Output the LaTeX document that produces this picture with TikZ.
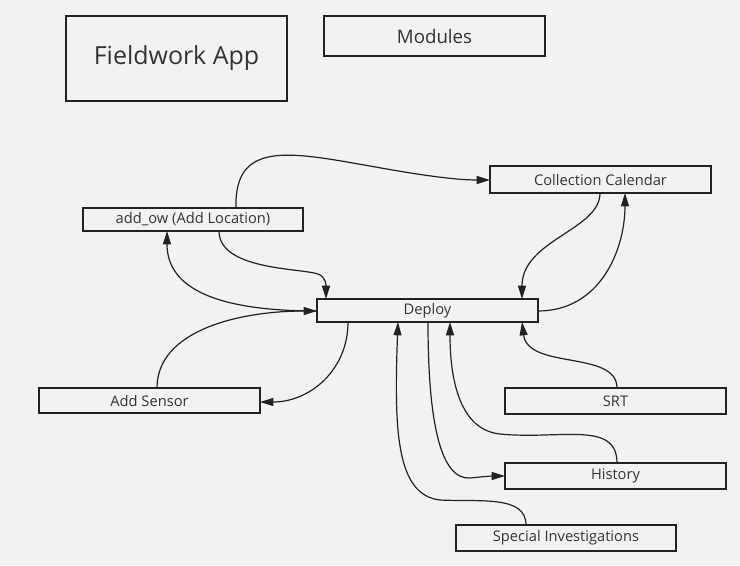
\documentclass[tikz,border=0pt]{standalone}
\usepackage{fontspec}
\setmainfont{Open Sans}
\usetikzlibrary{arrows.meta}
\definecolor{bg}{HTML}{F2F2F2}
\definecolor{ink}{HTML}{222222}
\definecolor{txt}{HTML}{333333}
\begin{document}
\begin{tikzpicture}[x=0.75pt,y=-0.75pt,
  box/.style={draw=ink,line width=1.6pt,fill=bg,text=txt,inner sep=0pt,font=\fontsize{11}{13}\selectfont},
  conn/.style={draw=ink,line width=0.9pt,-{Triangle[length=10pt,width=6pt]}},
  plain/.style={draw=ink,line width=0.9pt}]
\fill[bg] (0,0) rectangle (740,565);
\useasboundingbox (0,0) rectangle (740,565);
% boxes
\node[box,minimum width=221*0.75pt,minimum height=85*0.75pt,font=\fontsize{18.7}{21}\selectfont] (app) at (176.5,58.5) {Fieldwork App};
\node[box,minimum width=221*0.75pt,minimum height=40*0.75pt,font=\fontsize{14}{16}\selectfont] (mod) at (434.5,36) {Modules};
\node[box,minimum width=221*0.75pt,minimum height=27*0.75pt] (cal) at (600.5,179.5) {Collection Calendar};
\node[box,minimum width=220*0.75pt,minimum height=23*0.75pt] (ow) at (193,219.5) {add\_ow (Add Location)};
\node[box,minimum width=221*0.75pt,minimum height=23*0.75pt] (dep) at (427.5,310.5) {Deploy};
\node[box,minimum width=221*0.75pt,minimum height=25*0.75pt] (sen) at (149.5,400.5) {Add Sensor};
\node[box,minimum width=221*0.75pt,minimum height=26*0.75pt] (srt) at (615.5,401) {SRT};
\node[box,minimum width=221*0.75pt,minimum height=26*0.75pt] (his) at (615.5,476) {History};
\node[box,minimum width=220*0.75pt,minimum height=26*0.75pt] (spi) at (566,538) {Special Investigations};
% anchor coordinates
\coordinate (owT) at (236,208);
\coordinate (owB1) at (219,231);
\coordinate (owB2) at (167,231);
\coordinate (calL) at (490,180);
\coordinate (calB1) at (600,193);
\coordinate (calB2) at (625,193);
\coordinate (depL) at (317,311);
\coordinate (depR) at (538,311);
\coordinate (depT1) at (326,299);
\coordinate (depT2) at (522,299);
\coordinate (depB1) at (348,322);
\coordinate (depB2) at (398,322);
\coordinate (depB3) at (428,322);
\coordinate (depB4) at (450,322);
\coordinate (depB5) at (522,322);
\coordinate (senT) at (157,388);
\coordinate (senR) at (260,402);
\coordinate (srtT) at (617,388);
\coordinate (hisT) at (617,463);
\coordinate (hisL) at (505,476);
\coordinate (spiT) at (526,525);
% connectors
\draw[conn] (owT) .. controls (234,140) and (290,152) .. (370,166) .. controls (430,177) and (460,180) .. (calL);
\draw[conn] (owB1) .. controls (219,270) and (300,268) .. (318,274) .. controls (326,277) and (326,285) .. (depT1);
\draw[conn] (depL) .. controls (220,311) and (167,290) .. (owB2);
\draw[conn] (senT) .. controls (157,330) and (240,311) .. (depL);
\draw[conn] (depB1) .. controls (348,370) and (310,402) .. (senR);
\draw[conn] (calB1) .. controls (600,230) and (522,240) .. (depT2);
\draw[conn] (depR) .. controls (600,311) and (625,250) .. (calB2);
\draw[conn] (srtT) .. controls (617,350) and (528,370) .. (depB5);
\draw[conn] (hisT) .. controls (617,420) and (560,440) .. (500,434) .. controls (460,430) and (450,380) .. (depB4);
\draw[conn] (depB3) .. controls (428,420) and (440,480) .. (470,478) .. controls (480,477) and (490,476) .. (hisL);
\draw[conn] (spiT) .. controls (526,495) and (480,502) .. (440,500) .. controls (396,495) and (394,430) .. (depB2);
\end{tikzpicture}
\end{document}
